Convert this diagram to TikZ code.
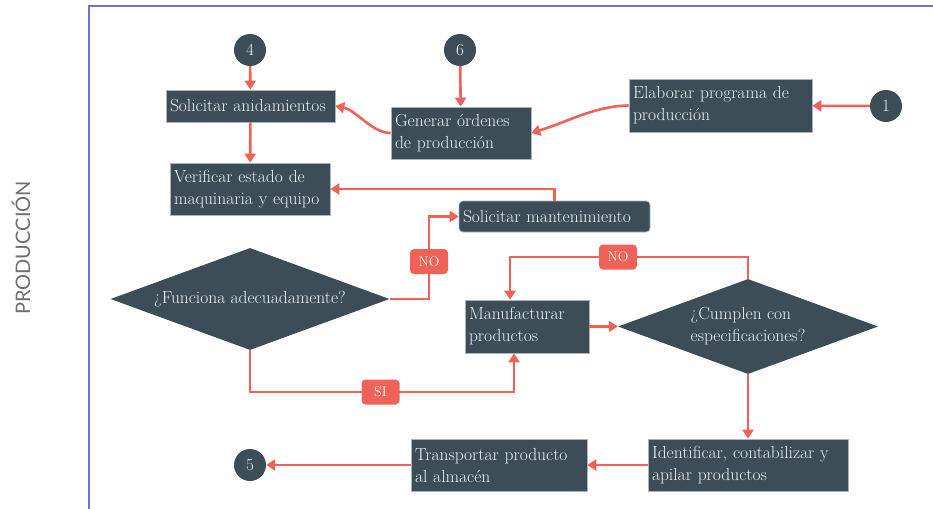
\documentclass[tikz,border=0pt]{standalone}
\usepackage{fontspec}
\newfontfamily\latofont{Lato}
\usetikzlibrary{shapes.geometric,arrows.meta}
\definecolor{dark}{RGB}{60,77,87}
\definecolor{redc}{RGB}{240,98,88}
\definecolor{framec}{RGB}{112,112,216}
\definecolor{txtc}{RGB}{240,242,242}
\definecolor{edgec}{RGB}{170,180,186}
\definecolor{lanec}{RGB}{110,110,110}
\tikzset{
  box/.style={rectangle, fill=dark, draw=edgec, line width=0.6pt, text=txtc, align=left,
    font=\fontsize{17.5}{22}\selectfont, inner xsep=4pt, inner ysep=0pt},
  rbox/.style={box, rounded corners=4pt},
  decision/.style={diamond, fill=dark, text=txtc, inner sep=0pt, aspect=2.7,
    font=\fontsize{17.5}{22}\selectfont},
  conn/.style={draw=redc, line width=2.6pt, -{Triangle[length=9pt,width=11pt]}},
  connector/.style={circle, fill=dark, text=txtc, minimum size=32pt, inner sep=0pt,
    font=\fontsize{17}{17}\selectfont},
  lab/.style={rectangle, rounded corners=4pt, fill=redc, text=white, minimum width=38pt,
    minimum height=25pt, inner sep=0pt, font=\fontsize{14}{14}\selectfont},
}
\begin{document}
\begin{tikzpicture}[x=1pt,y=-1pt]
\useasboundingbox (0,0) rectangle (933,508);
\draw[framec, line width=2pt] (89,509) -- (89,6) -- (934,6);
\node[rotate=90, text=lanec, font=\latofont\fontsize{20}{20}\selectfont] (lane) at (21,248) {PRODUCCIÓN};

% connectors circles
\node[connector] (c4) at (250,50) {4};
\node[connector] (c6) at (460,50) {6};
\node[connector] (c1) at (886,106) {1};
\node[connector] (c5) at (250,465) {5};

% boxes
\node[box, text width=161pt, minimum height=32pt] (sa) at (250.5,106) {Solicitar anidamientos};
\node[box, text width=132pt, minimum height=52pt] (gen) at (461,133) {Generar órdenes\\de producción};
\node[box, text width=175pt, minimum height=53pt] (ela) at (720.5,105.5) {Elaborar programa de\\producción};
\node[box, text width=152pt, minimum height=52pt] (ver) at (250,189) {Verificar estado de\\maquinaria y equipo};
\node[rbox, text width=183pt, minimum height=31pt] (sm) at (554.5,216.5) {Solicitar mantenimiento};
\node[decision, minimum width=279pt, minimum height=102pt] (d1) at (250,299) {¿Funciona adecuadamente?};
\node[box, text width=116pt, minimum height=53pt] (man) at (527,326.5) {Manufacturar\\productos};
\node[decision, minimum width=260pt, minimum height=95pt, align=left] (d2) at (748,326.5) {¿Cumplen con\\especificaciones?};
\node[box, text width=192pt, minimum height=52pt] (ide) at (748,465) {Identificar, contabilizar y\\apilar productos};
\node[box, text width=168pt, minimum height=52pt] (tra) at (499,465) {Transportar producto\\al almacén};

% helper coordinates
\coordinate (k1) at (429,299);
\coordinate (k2) at (250,392);
\coordinate (k3) at (514,392);
\coordinate (k4) at (748,257);
\coordinate (k5) at (510,257);

% edges
\draw[conn] (c4) -- (sa);
\draw[conn] (sa) -- (ver);
\draw[conn] (c6) -- (gen);
\draw[conn] (c1) -- (ela);
\draw[conn] (ela.west) .. controls (595,106) and (570,121) .. (gen.east);
\draw[conn] (gen.west) .. controls (372,133) and (356,110) .. (sa.east);
\draw[conn] (sm.north) |- (ver.east);
\draw[conn] (d1.east) -- (k1) |- (sm.west);
\draw[conn] (d1.south) -- (k2) -- (k3) -- (k3 |- man.south);
\draw[conn] (man.east) -- (d2.west);
\draw[conn] (d2.north) -- (k4) -- (k5) -- (k5 |- man.north);
\draw[conn] (d2.south) -- (ide.north);
\draw[conn] (ide.west) -- (tra.east);
\draw[conn] (tra.west) -- (c5.east);

% labels
\node[lab] (no1) at (429,261.5) {NO};
\node[lab] (si) at (380.5,392) {SI};
\node[lab] (no2) at (618,257) {NO};
\end{tikzpicture}
\end{document}
